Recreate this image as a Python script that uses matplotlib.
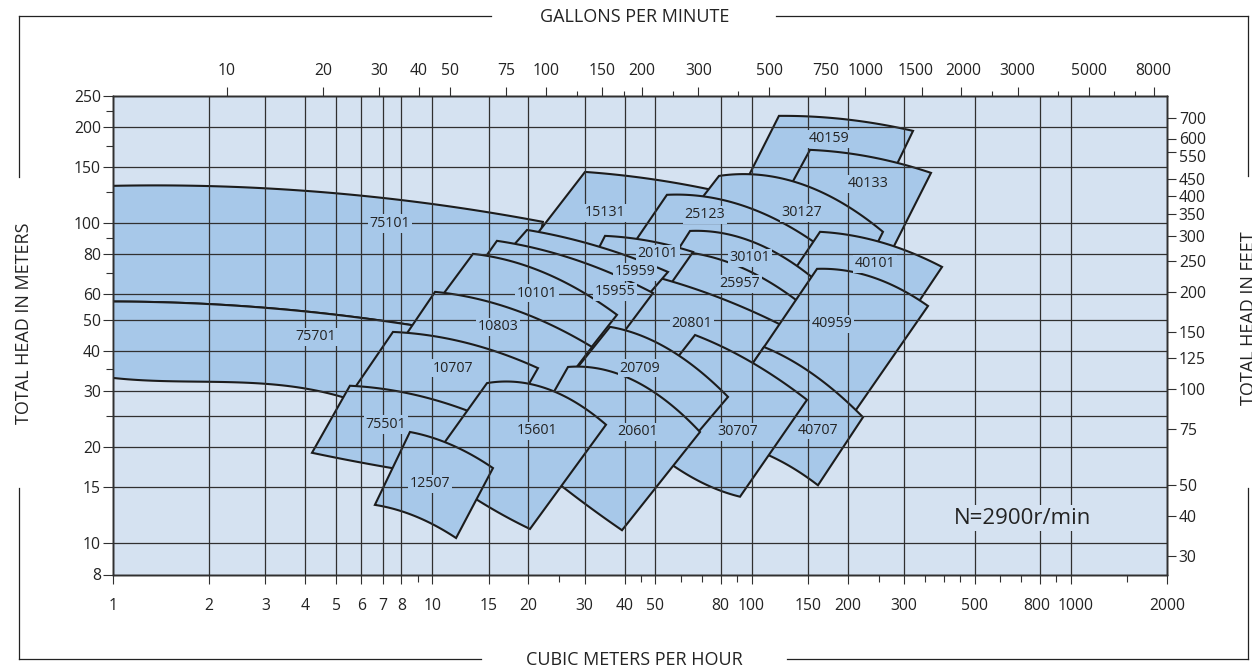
import numpy as np
import matplotlib.pyplot as plt
from matplotlib.patches import Polygon
from matplotlib.lines import Line2D
from matplotlib.ticker import NullFormatter
from matplotlib.transforms import ScaledTranslation

plt.rcParams['font.family'] = ['Open Sans', 'DejaVu Sans']

GPM_PER_M3H = 4.402868
FT_PER_M = 3.28084

# pump model regions, listed back to front (later ones cover earlier ones)
models = ["75101", "75701", "40159", "40133", "15131", "30127", "25123", "40101",
          "30101", "25957", "20101", "20801", "15959", "15955", "40959", "40707",
          "30707", "20709", "10101", "10803", "20601", "10707", "75501", "15601", "12507"]

# top boundary (max impeller curve), left -> right, flow m3/h and head m
top_q = [[1, 7.92, 22.2], [1, 8.51, 18.8], [121.8, 203.3, 320.3], [152.4, 234.9, 364.7],
         [30.08, 48.1, 75.2], [79.07, 167.3, 257.9], [54.3, 131.9, 169.8], [163.8, 252.4, 394.9],
         [64.15, 106.2, 173.5], [55.5, 92.0, 141.8], [34.75, 43.8, 65.56], [44.73, 79.6, 127.2],
         [19.8, 33.5, 54.72], [15.94, 34.2, 49.12], [160.3, 252.4, 356.9], [109.3, 176.0, 223.3],
         [66.5, 101.0, 149.1], [36.02, 58.82, 84.37], [13.41, 21.3, 37.88], [10.2, 16.29, 31.64],
         [26.61, 42.5, 68.94], [7.53, 12.84, 21.43], [5.52, 7.92, 15.2], [14.84, 23.37, 35.0],
         [8.51, 11.12, 15.49]]
top_h = [[131, 118.4, 101.1], [57.0, 48.2, 41.7], [216.7, 210.6, 194.5], [169.7, 161.4, 143.8],
         [144.8, 137.7, 127.2], [140.7, 124.6, 94.1], [122.8, 97.5, 82.6], [94.1, 87.5, 73.1],
         [94.7, 85.7, 61.5], [82.0, 73.1, 56.4], [91.4, 89.4, 81.4], [70.0, 58.5, 47.5],
         [95.4, 84.4, 70.5], [88.2, 71.6, 60.6], [72.1, 66.6, 55.2], [41.1, 30.8, 24.8],
         [44.8, 36.6, 28.1], [47.5, 38.8, 28.7], [80.3, 71.6, 51.8], [61.1, 55.6, 41.1],
         [35.6, 32.4, 22.3], [45.8, 42.3, 35.3], [31.1, 29.8, 24.3], [31.7, 30.2, 23.5],
         [22.3, 20.6, 17.2]]

# bottom boundary (min impeller curve), left -> right
bottom_q = [[1, 8.51, 18.8], [1, 2.0, 3.99, 5.81], [88.1, 158.0, 265.5], [109.3, 169.8, 263.6],
            [19.8, 33.5, 64.15], [50.9, 106.2, 226.6], [40.4, 74.1, 141.8], [123.6, 196.1, 308.9],
            [52.4, 85.6, 131.9], [49.8, 79.6, 114.2], [30.08, 41.6, 53.6], [37.3, 64.15, 95.4],
            [16.6, 29.0, 46.0], [13.6, 25.1, 37.3], [88.7, 131.9, 191.9], [68.94, 112.6, 161.4],
            [40.1, 68.94, 92.0], [27.8, 44.73, 61.0], [9.69, 18.8, 30.7], [7.53, 13.1, 23.0],
            [18.8, 25.67, 39.28], [5.52, 9.83, 17.3], [4.2, 7.48, 13.1], [9.69, 13.8, 20.23],
            [6.61, 8.96, 11.87]]
bottom_h = [[57.0, 48.2, 41.7], [32.9, 32.0, 30.5, 27.7], [114.2, 121.0, 131.9], [92.1, 83.9, 75.8],
            [84.4, 79.7, 84.4], [79.7, 75.8, 72.6], [79.7, 70.5, 64.2], [62.0, 58.5, 50.7],
            [69.0, 57.7, 46.5], [62.0, 49.9, 41.7], [69.0, 62.0, 61.1], [44.8, 36.1, 32.4],
            [78.0, 64.2, 57.7], [70.5, 53.7, 42.0], [30.2, 25.8, 22.6], [21.1, 18.9, 15.2],
            [23.5, 15.6, 14.0], [34.4, 24.3, 19.6], [51.8, 46.5, 39.7], [39.1, 33.6, 27.1],
            [19.3, 15.0, 11.0], [29.1, 26.1, 24.3], [19.2, 17.2, 15.8], [17.5, 13.7, 11.1],
            [13.2, 12.1, 10.4]]

# where each model number is printed
label_q = [7.37, 4.32, 174.8, 231.5, 34.75, 143.9, 71.5, 243.5, 98.9, 92.0, 50.9, 65.1, 43.1,
           37.3, 178.6, 161.4, 90.7, 44.73, 21.3, 16.06, 43.8, 11.61, 7.16, 21.3, 9.83]
label_h = [100, 44.2, 183.7, 132.9, 107.8, 107.8, 106.3, 74.7, 78.0, 64.7, 80.3, 48.5, 70.5,
           61.1, 48.5, 22.6, 22.3, 35.3, 60.6, 47.5, 22.3, 35.3, 23.5, 22.5, 15.35]

# axes ticks and grid
x_ticks = [1, 2, 3, 4, 5, 6, 7, 8, 10, 15, 20, 30, 40, 50, 80, 100, 150, 200, 300, 500, 800, 1000, 2000]
x_minor = [9, 25, 45, 60, 70, 90, 250, 350, 400, 450, 600, 700, 900, 1500]
x_grid = [2, 3, 4, 5, 6, 7, 8, 10, 15, 20, 30, 40, 50, 80, 100, 150, 200, 300, 500, 800, 1000]
y_ticks = [8, 10, 15, 20, 30, 40, 50, 60, 80, 100, 150, 200, 250]
y_minor = [25, 35, 70, 90, 125, 175, 225]
y_grid = [10, 15, 20, 25, 30, 40, 50, 60, 80, 100, 150, 200]
gpm_ticks = [10, 20, 30, 40, 50, 75, 100, 150, 200, 300, 500, 750, 1000, 1500, 2000, 3000, 5000, 8000]
gpm_minor = [125, 175, 250, 400, 2500, 4000, 6000, 7000]
ft_ticks = [30, 40, 50, 75, 100, 125, 150, 200, 250, 300, 350, 400, 450, 550, 600, 700]

BG = '#d5e2f1'
FILL = '#a7c8e9'
EDGE = '#1c1c1c'
GRID = '#303030'
TXT = '#232323'


def edge_curve(qs, hs, n=50):
    # smooth curve through the read points, polynomial in log-log space
    u = np.log10(qs)
    v = np.log10(hs)
    coef = np.polyfit(u, v, len(u) - 1)
    uu = np.linspace(u[0], u[-1], n)
    return 10 ** uu, 10 ** np.polyval(coef, uu)


W, H = 1252, 670
fig = plt.figure(figsize=(W / 100, H / 100), dpi=100)
ax = fig.add_axes([113 / W, 95.5 / H, 1054 / W, 478.5 / H])
ax.set_xscale('log')
ax.set_yscale('log')
ax.set_xlim(1, 2000)
ax.set_ylim(8, 250)
ax.set_facecolor(BG)

for i, name in enumerate(models):
    tq, th = edge_curve(top_q[i], top_h[i])
    bq, bh = edge_curve(bottom_q[i], bottom_h[i])
    pts = np.column_stack([np.concatenate([tq, bq[::-1]]), np.concatenate([th, bh[::-1]])])
    ax.add_patch(Polygon(pts, closed=True, fc=FILL, ec=EDGE, lw=1.5,
                         joinstyle='miter', zorder=2 + i))

ax.vlines(x_grid, 8, 250, colors=GRID, lw=0.9, zorder=40)
ax.hlines(y_grid, 1, 2000, colors=GRID, lw=0.9, zorder=40)

for i, name in enumerate(models):
    ax.text(label_q[i], label_h[i], name, ha='center', va='center', fontsize=10.3, color=TXT,
            zorder=50, bbox=dict(boxstyle='square,pad=0.12', fc=FILL, ec='none'))

ax.text(708, 12.0, "N=2900r/min", ha='center', va='center', fontsize=16, color=TXT,
        zorder=50, bbox=dict(boxstyle='square,pad=0.1', fc=BG, ec='none'))

# bottom / left axes
ax.set_xticks(x_ticks, labels=[str(v) for v in x_ticks])
ax.set_xticks(x_minor, minor=True)
ax.xaxis.set_minor_formatter(NullFormatter())
ax.set_yticks(y_ticks, labels=[str(v) for v in y_ticks])
ax.set_yticks(y_minor, minor=True)
ax.yaxis.set_minor_formatter(NullFormatter())
ax.tick_params(axis='x', which='major', direction='out', length=6.7, width=0.8, pad=10.5,
               labelsize=11.3, labelcolor=TXT, color=GRID)
ax.tick_params(axis='x', which='minor', direction='out', length=4.8, width=0.8, color=GRID)
ax.tick_params(axis='y', which='major', direction='out', length=7.2, width=0.8, pad=1.5,
               labelsize=11.3, labelcolor=TXT, color=GRID)
ax.tick_params(axis='y', which='minor', direction='out', length=5, width=0.8, color=GRID)

# top axis in US gallons per minute
axt = ax.twiny()
axt.set_xscale('log')
axt.set_xlim(1 * GPM_PER_M3H, 2000 * GPM_PER_M3H)
axt.set_xticks(gpm_ticks, labels=[str(v) for v in gpm_ticks])
axt.set_xticks(gpm_minor, minor=True)
axt.xaxis.set_minor_formatter(NullFormatter())
axt.tick_params(axis='x', which='major', direction='out', length=6.5, width=0.8, pad=5.5,
                labelsize=11.3, labelcolor=TXT, color=GRID)
axt.tick_params(axis='x', which='minor', direction='out', length=3.6, width=0.8, color=GRID)

# right axis in feet
axr = ax.twinx()
axr.set_yscale('log')
axr.set_ylim(8 * FT_PER_M, 250 * FT_PER_M)
axr.set_yticks(ft_ticks, labels=[str(v) for v in ft_ticks])
axr.yaxis.set_minor_locator(plt.NullLocator())
axr.tick_params(axis='y', which='major', direction='out', length=6.5, width=0.8, pad=2,
                labelsize=11.3, labelcolor=TXT, color=GRID)

for a in (ax, axt, axr):
    for s in a.spines.values():
        s.set_color(GRID)
        s.set_linewidth(1.0)


def nudge(labels, text, dx, dy):
    # shift a crowded tick label by a few pixels, as the original layout does
    for t in labels:
        if t.get_text() == text:
            t.set_transform(t.get_transform() +
                            ScaledTranslation(dx / 100, dy / 100, fig.dpi_scale_trans))


nudge(ax.get_xticklabels(), "800", -3, 0)
nudge(ax.get_xticklabels(), "1000", 5, 0)
nudge(axt.get_xticklabels(), "1500", -6, 0)
nudge(axt.get_xticklabels(), "2000", 2, 0)
nudge(axr.get_yticklabels(), "550", 0, -4)
nudge(axr.get_yticklabels(), "600", 0, 1)

# outer frame with gaps for the titles
frame = [((19, 16), (491, 16)), ((776, 16), (1248, 16)),
         ((19, 659), (481, 659)), ((787, 659), (1248, 659)),
         ((19, 16), (19, 177)), ((19, 488), (19, 659)),
         ((1248, 16), (1248, 176)), ((1248, 488), (1248, 659))]
for (x0, y0), (x1, y1) in frame:
    fig.add_artist(Line2D([x0 / W, x1 / W], [1 - y0 / H, 1 - y1 / H],
                          transform=fig.transFigure, color='#222222', lw=0.9))

fig.text(635 / W, 1 - 17 / H, "GALLONS PER MINUTE", ha='center', va='center', fontsize=13, color=TXT)
fig.text(634 / W, 1 - 660 / H, "CUBIC METERS PER HOUR", ha='center', va='center', fontsize=13, color=TXT)
fig.text(24 / W, 1 - 323 / H, "TOTAL HEAD IN METERS", ha='center', va='center', rotation=90,
         fontsize=13, color=TXT)
fig.text(1249 / W, 1 - 318 / H, "TOTAL HEAD IN FEET", ha='center', va='center', rotation=90,
         fontsize=13, color=TXT)

fig.savefig('out.png', dpi=100)
